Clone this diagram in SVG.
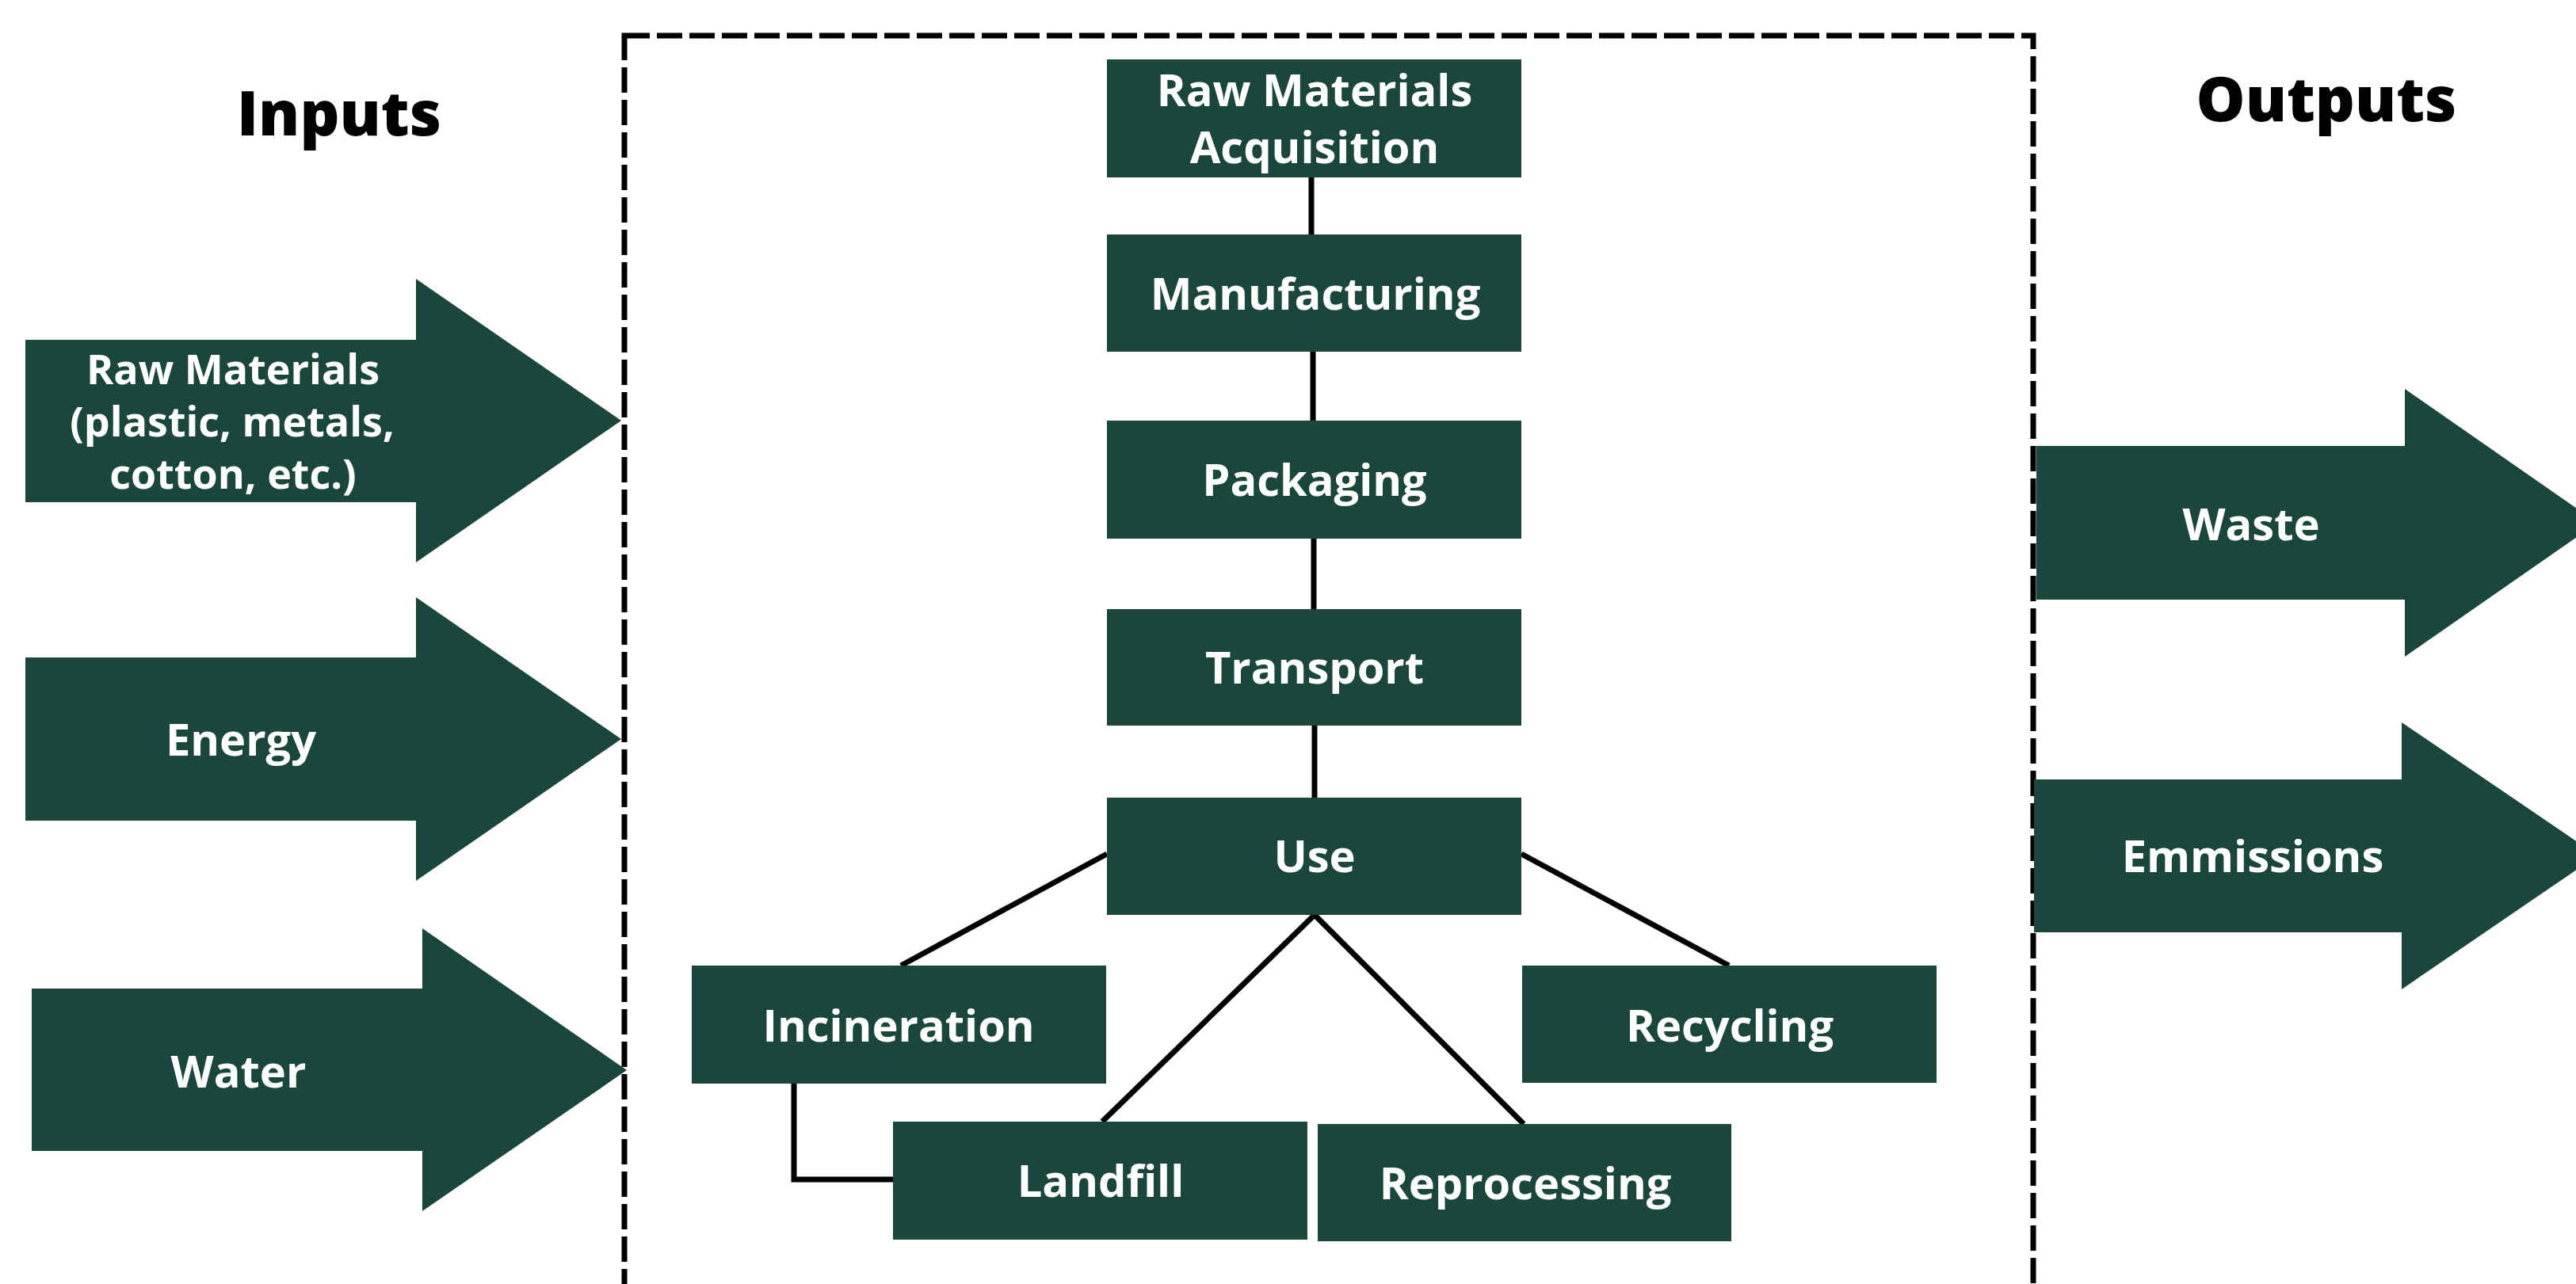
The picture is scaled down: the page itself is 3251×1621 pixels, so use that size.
<svg xmlns="http://www.w3.org/2000/svg" width="3251" height="1621" viewBox="0 0 3251 1621">
<style>
.box{fill:#1b463c}
.lbl{font-family:"Open Sans","Liberation Sans",sans-serif;font-weight:700;font-size:56px;fill:#ffffff;text-anchor:middle}
.sm{font-size:52px}
.ttl{font-family:"Open Sans","Liberation Sans",sans-serif;font-weight:800;font-size:78px;fill:#000000;text-anchor:middle}
.conn{stroke:#000000;stroke-width:7;fill:none}
.frame{stroke:#000000;stroke-width:7;fill:none;stroke-dasharray:32 9}
</style>
<rect width="3251" height="1621" fill="#ffffff"/>
<rect class="frame" x="788" y="45" width="1778" height="1620"/>
<text class="ttl" x="428" y="171">Inputs</text>
<text class="ttl" x="2936" y="153">Outputs</text>
<g id="connectors">
<line class="conn" x1="1655" y1="222" x2="1655" y2="298"/>
<line class="conn" x1="1657" y1="442" x2="1657" y2="533"/>
<line class="conn" x1="1658" y1="678" x2="1658" y2="771"/>
<line class="conn" x1="1659" y1="914" x2="1659" y2="1009"/>
<line class="conn" x1="1397" y1="1078" x2="1137" y2="1219"/>
<line class="conn" x1="1920" y1="1078" x2="2182" y2="1219"/>
<line class="conn" x1="1659" y1="1155" x2="1391" y2="1416"/>
<line class="conn" x1="1659" y1="1155" x2="1923" y2="1419"/>
<polyline class="conn" points="1002,1366 1002,1489 1129,1489"/>
</g>
<g id="in-raw">
<polygon class="box" points="32,429 525,429 525,352 784,531 525,710 525,634 32,634"/>
<text class="lbl sm" x="294" y="485">Raw Materials</text>
<text class="lbl sm" x="293" y="551">(plastic, metals,</text>
<text class="lbl sm" x="294" y="617">cotton, etc.)</text>
</g>
<g id="in-energy">
<polygon class="box" points="32,830 525,830 525,754 784,933 525,1112 525,1036 32,1036"/>
<text class="lbl" x="304" y="954">Energy</text>
</g>
<g id="in-water">
<polygon class="box" points="40,1248 533,1248 533,1172 791,1351 533,1529 533,1453 40,1453"/>
<text class="lbl" x="301" y="1373">Water</text>
</g>
<g id="out-waste">
<polygon class="box" points="2570,563 3035,563 3035,491 3278,660 3035,829 3035,757 2570,757"/>
<text class="lbl" x="2841" y="682">Waste</text>
</g>
<g id="out-emissions">
<polygon class="box" points="2567,984 3031,984 3031,912 3278,1080 3031,1249 3031,1177 2567,1177"/>
<text class="lbl" x="2843" y="1101">Emmissions</text>
</g>
<g id="raw-materials-acquisition">
<rect class="box" x="1397" y="75" width="523" height="149"/>
<text class="lbl" x="1659" y="134">Raw Materials</text>
<text class="lbl" x="1659" y="206">Acquisition</text>
</g>
<g id="manufacturing">
<rect class="box" x="1397" y="296" width="523" height="148"/>
<text class="lbl" x="1660" y="391">Manufacturing</text>
</g>
<g id="packaging">
<rect class="box" x="1397" y="531" width="523" height="149"/>
<text class="lbl" x="1659" y="626">Packaging</text>
</g>
<g id="transport">
<rect class="box" x="1397" y="769" width="523" height="147"/>
<text class="lbl" x="1659" y="863">Transport</text>
</g>
<g id="use">
<rect class="box" x="1397" y="1007" width="523" height="148"/>
<text class="lbl" x="1659" y="1101">Use</text>
</g>
<g id="incineration">
<rect class="box" x="873" y="1219" width="523" height="149"/>
<text class="lbl" x="1134" y="1315">Incineration</text>
</g>
<g id="recycling">
<rect class="box" x="1921" y="1219" width="523" height="148"/>
<text class="lbl" x="2183" y="1315">Recycling</text>
</g>
<g id="landfill">
<rect class="box" x="1127" y="1416" width="523" height="149"/>
<text class="lbl" x="1389" y="1511">Landfill</text>
</g>
<g id="reprocessing">
<rect class="box" x="1663" y="1419" width="522" height="148"/>
<text class="lbl" x="1925" y="1514">Reprocessing</text>
</g>
</svg>
